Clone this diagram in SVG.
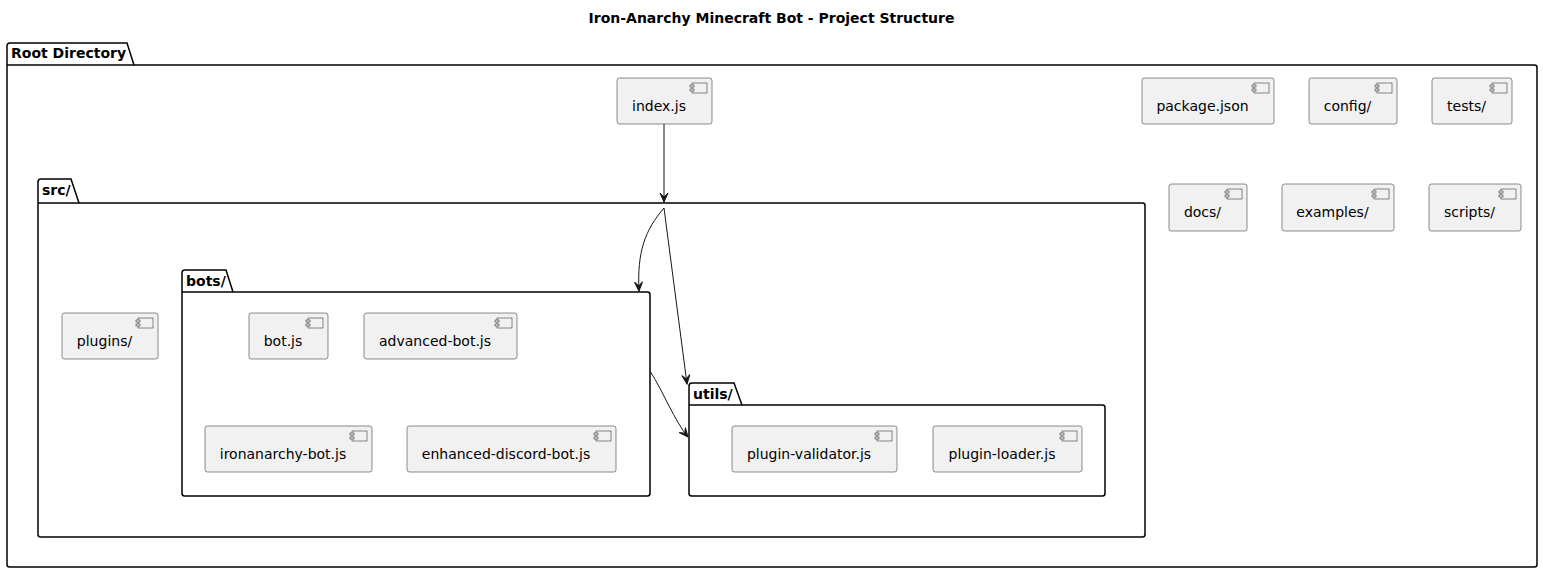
<svg xmlns="http://www.w3.org/2000/svg" width="1543" height="574" viewBox="0 0 1543 574">
<defs>
<style>
.pkg{fill:none;stroke:#000;stroke-width:1.5}
.cmp{fill:#F1F1F1;stroke:#181818;stroke-width:0.5}
.ico{fill:#F1F1F1;stroke:#181818;stroke-width:0.5}
.t{font-family:"DejaVu Sans",sans-serif;font-size:14px;fill:#000;text-anchor:middle}
.pt{font-family:"DejaVu Sans",sans-serif;font-size:14px;font-weight:bold;fill:#000}
.title{font-family:"DejaVu Sans",sans-serif;font-size:14px;font-weight:bold;fill:#000;text-anchor:middle}
.ln{fill:none;stroke:#181818;stroke-width:1}
</style>
<marker id="ah" markerUnits="userSpaceOnUse" markerWidth="12" markerHeight="12" viewBox="-10 -6 12 12" refX="0" refY="0" orient="auto">
<path d="M0,0 L-9,-4 L-5,0 L-9,4 Z" fill="#181818" stroke="#181818" stroke-width="1"/>
</marker>
<g id="icon">
<rect class="ico" x="0" y="0" width="15" height="10"/>
<rect class="ico" x="-2" y="2" width="4" height="2"/>
<rect class="ico" x="-2" y="6" width="4" height="2"/>
</g>
</defs>
<rect width="1543" height="574" fill="#fff"/>
<text class="title" x="771.5" y="23">Iron-Anarchy Minecraft Bot - Project Structure</text>

<g id="pkg-root">
<path class="pkg" d="M10,43 L127,43 L134,65 L1534.5,65 Q1537,65 1537,67.5 L1537,564.5 Q1537,567 1534.5,567 L9.5,567 Q7,567 7,564.5 L7,46 Q7,43 10,43 Z"/>
<line class="pkg" x1="7" y1="65" x2="134" y2="65"/>
<text class="pt" x="11" y="58">Root Directory</text>
</g>
<g id="pkg-src">
<path class="pkg" d="M41,179 L71,179 L79,203 L1142.5,203 Q1145,203 1145,205.5 L1145,534.5 Q1145,537 1142.5,537 L40.5,537 Q38,537 38,534.5 L38,182 Q38,179 41,179 Z"/>
<line class="pkg" x1="38" y1="203" x2="79" y2="203"/>
<text class="pt" x="42" y="195">src/</text>
</g>
<g id="pkg-bots">
<path class="pkg" d="M185,270 L226,270 L233,292 L647.5,292 Q650,292 650,294.5 L650,493.5 Q650,496 647.5,496 L184.5,496 Q182,496 182,493.5 L182,273 Q182,270 185,270 Z"/>
<line class="pkg" x1="182" y1="292" x2="233" y2="292"/>
<text class="pt" x="186" y="286">bots/</text>
</g>
<g id="pkg-utils">
<path class="pkg" d="M692,383 L734,383 L742,405 L1102.5,405 Q1105,405 1105,407.5 L1105,493.5 Q1105,496 1102.5,496 L691.5,496 Q689,496 689,493.5 L689,386 Q689,383 692,383 Z"/>
<line class="pkg" x1="689" y1="405" x2="742" y2="405"/>
<text class="pt" x="693" y="399">utils/</text>
</g>

<g id="index-js"><rect class="cmp" x="617" y="78" width="95" height="46" rx="2.5"/><use href="#icon" x="692" y="83"/><text class="t" x="659" y="110.5">index.js</text></g>
<g id="package-json"><rect class="cmp" x="1142" y="78" width="132" height="46" rx="2.5"/><use href="#icon" x="1254" y="83"/><text class="t" x="1202.5" y="110.5">package.json</text></g>
<g id="config"><rect class="cmp" x="1309" y="78" width="88" height="46" rx="2.5"/><use href="#icon" x="1377" y="83"/><text class="t" x="1347.5" y="110.5">config/</text></g>
<g id="tests"><rect class="cmp" x="1432" y="78" width="80" height="46" rx="2.5"/><use href="#icon" x="1492" y="83"/><text class="t" x="1466.5" y="110.5">tests/</text></g>
<g id="docs"><rect class="cmp" x="1169" y="184" width="78" height="47" rx="2.5"/><use href="#icon" x="1227" y="189"/><text class="t" x="1202.5" y="216.5">docs/</text></g>
<g id="examples"><rect class="cmp" x="1282" y="184" width="112" height="47" rx="2.5"/><use href="#icon" x="1374" y="189"/><text class="t" x="1332.5" y="216.5">examples/</text></g>
<g id="scripts"><rect class="cmp" x="1429" y="184" width="92" height="47" rx="2.5"/><use href="#icon" x="1501" y="189"/><text class="t" x="1469.5" y="216.5">scripts/</text></g>
<g id="plugins"><rect class="cmp" x="62" y="313" width="96" height="46" rx="2.5"/><use href="#icon" x="138" y="318"/><text class="t" x="104.5" y="345.5">plugins/</text></g>
<g id="bot-js"><rect class="cmp" x="249" y="313" width="79" height="46" rx="2.5"/><use href="#icon" x="308" y="318"/><text class="t" x="283" y="345.5">bot.js</text></g>
<g id="advanced-bot-js"><rect class="cmp" x="364" y="313" width="153" height="46" rx="2.5"/><use href="#icon" x="497" y="318"/><text class="t" x="435" y="345.5">advanced-bot.js</text></g>
<g id="ironanarchy-bot-js"><rect class="cmp" x="205" y="426" width="167" height="46" rx="2.5"/><use href="#icon" x="352" y="431"/><text class="t" x="283" y="458.5">ironanarchy-bot.js</text></g>
<g id="enhanced-discord-bot-js"><rect class="cmp" x="407" y="426" width="209" height="46" rx="2.5"/><use href="#icon" x="596" y="431"/><text class="t" x="506" y="458.5">enhanced-discord-bot.js</text></g>
<g id="plugin-validator-js"><rect class="cmp" x="732" y="426" width="165" height="46" rx="2.5"/><use href="#icon" x="877" y="431"/><text class="t" x="809" y="458.5">plugin-validator.js</text></g>
<g id="plugin-loader-js"><rect class="cmp" x="933" y="426" width="149" height="46" rx="2.5"/><use href="#icon" x="1062" y="431"/><text class="t" x="1002" y="458.5">plugin-loader.js</text></g>

<g id="connectors">
<path class="ln" d="M664,124 L664,202" marker-end="url(#ah)"/>
<path class="ln" d="M664,208 C645,230 637,252 639,291" marker-end="url(#ah)"/>
<path class="ln" d="M664,208 L687,384" marker-end="url(#ah)"/>
<path class="ln" d="M650,371 C664,393 674,420 688,437" marker-end="url(#ah)"/>
</g>
</svg>
